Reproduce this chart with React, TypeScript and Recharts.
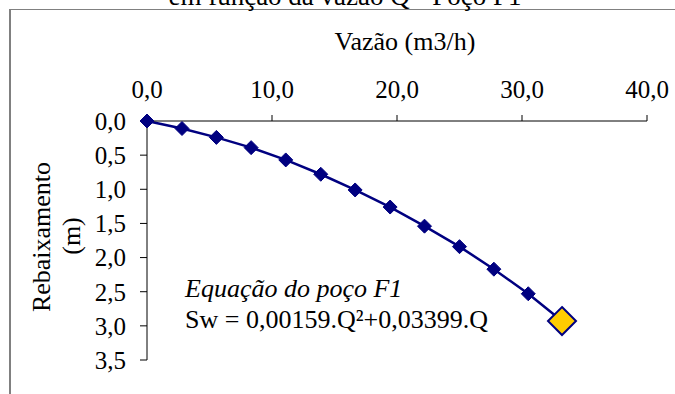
import React from 'react';
import { LineChart, Line, XAxis, YAxis } from 'recharts';

const vazaoQ = [0, 2.8, 5.55, 8.33, 11.1, 13.9, 16.65, 19.45, 22.2, 25.0, 27.75, 30.5, 33.2];
const rebaixamentoSw = [0, 0.11, 0.24, 0.39, 0.57, 0.78, 1.01, 1.26, 1.54, 1.84, 2.17, 2.53, 2.93];
const xTicks = [0, 10, 20, 30, 40];
const yTicks = [0, 0.5, 1, 1.5, 2, 2.5, 3, 3.5];

const chartTitle = 'em função da vazão Q - Poço F1';
const xTitle = 'Vazão (m3/h)';
const yTitleLines = ['Rebaixamento', '(m)'];
const eqTitle = 'Equação do poço F1';
const eqText = 'Sw = 0,00159.Q²+0,03399.Q';

const data = vazaoQ.map((q, i) => ({ q, sw: rebaixamentoSw[i] }));

const FONT = 'Liberation Serif, Times New Roman, DejaVu Serif, serif';
const NAVY = '#000080';

const fmt = (v: number) => v.toFixed(1).replace('.', ',');

const renderDot = (props: any) => {
  const { cx, cy, index } = props;
  if (cx == null || cy == null) return <g key={`d${index}`} />;
  const last = index === data.length - 1;
  const r = last ? 14 : 7;
  const pts = `${cx},${cy - r} ${cx + r},${cy} ${cx},${cy + r} ${cx - r},${cy}`;
  return last ? (
    <polygon key={`d${index}`} points={pts} fill="#FFCC00" stroke={NAVY} strokeWidth={2} />
  ) : (
    <polygon key={`d${index}`} points={pts} fill={NAVY} stroke={NAVY} strokeWidth={1} />
  );
};

const tickStyle = { fill: '#000', fontSize: 25, style: { fontFamily: FONT } } as any;

export default function App() {
  return (
    <div style={{ position: 'absolute', left: 0, top: 0, width: 675, height: 394, background: '#fff', overflow: 'hidden', fontFamily: FONT }}>
      <div
        style={{
          position: 'absolute',
          left: 9,
          top: 9,
          width: 700,
          height: 400,
          borderLeft: '2px solid #808080',
          borderTop: '1px solid #808080',
        }}
      />
      <div style={{ position: 'absolute', left: 0, top: 0 }}>
        <LineChart width={675} height={394} data={data} margin={{ top: 0, right: 28, bottom: 34, left: 0 }} style={{ fontFamily: FONT }}>
          <XAxis
            dataKey="q"
            type="number"
            orientation="top"
            domain={[0, 40]}
            ticks={xTicks}
            tickFormatter={fmt}
            height={121}
            tickSize={6}
            tickMargin={17}
            axisLine={{ stroke: '#000', strokeWidth: 1 }}
            tickLine={{ stroke: '#000', strokeWidth: 1 }}
            tick={tickStyle}
            interval={0}
          />
          <YAxis
            dataKey="sw"
            type="number"
            reversed
            domain={[0, 3.5]}
            ticks={yTicks}
            tickFormatter={fmt}
            width={147}
            tickSize={7}
            tickMargin={14}
            axisLine={{ stroke: '#000', strokeWidth: 1 }}
            tickLine={{ stroke: '#000', strokeWidth: 1 }}
            tick={tickStyle}
            interval={0}
          />
          <Line
            type="linear"
            dataKey="sw"
            stroke={NAVY}
            strokeWidth={2.5}
            dot={renderDot}
            activeDot={false}
            isAnimationActive={false}
          />
        </LineChart>
      </div>
      <svg
        width={675}
        height={394}
        style={{ position: 'absolute', left: 0, top: 0, pointerEvents: 'none', fontFamily: FONT }}
      >
        <text x={345} y={5} textAnchor="middle" fontSize={27} fill="#000">{chartTitle}</text>
        <text x={405} y={50} textAnchor="middle" fontSize={26} fill="#000">{xTitle}</text>
        <text transform="translate(50,237) rotate(-90)" textAnchor="middle" fontSize={26} fill="#000">{yTitleLines[0]}</text>
        <text transform="translate(80,236) rotate(-90)" textAnchor="middle" fontSize={26} fill="#000">{yTitleLines[1]}</text>
        <text x={185} y={297} fontSize={26} fontStyle="italic" fill="#000">{eqTitle}</text>
        <text x={185} y={328} fontSize={26} fill="#000">{eqText}</text>
      </svg>
    </div>
  );
}
